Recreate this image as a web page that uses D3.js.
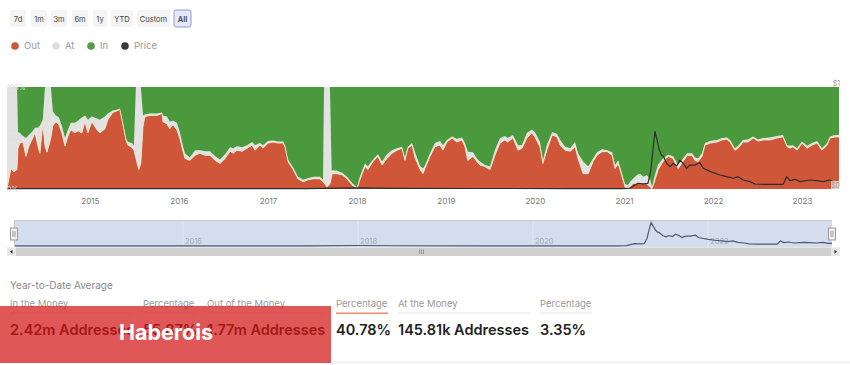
<!DOCTYPE html>
<html>
<head>
<meta charset="utf-8">
<script src="https://cdn.jsdelivr.net/npm/d3@7"></script>
<style>
    body { margin: 0; background: #fff; }
</style>
</head>
<body>
<div id="chartarea"></div>
<script>
// --- data ---
const dates = [
    '2014-01-26','2014-02-03','2014-02-11','2014-02-23','2014-03-08','2014-03-12','2014-03-20','2014-04-01','2014-04-14','2014-04-26',
    '2014-05-08','2014-05-21','2014-06-02','2014-06-10','2014-06-22','2014-07-01','2014-07-09','2014-07-25','2014-08-02','2014-08-15',
    '2014-08-27','2014-09-08','2014-09-21','2014-10-03','2014-10-15','2014-11-01','2014-11-13','2014-11-29','2014-12-12','2014-12-24',
    '2015-01-09','2015-01-30','2015-02-11','2015-03-04','2015-03-16','2015-04-05','2015-04-26','2015-05-04','2015-05-16','2015-05-29',
    '2015-06-06','2015-06-22','2015-07-01','2015-07-09','2015-07-21','2015-07-29','2015-08-07','2015-08-15','2015-09-04','2015-10-03',
    '2015-10-24','2015-10-28','2015-11-13','2015-11-25','2015-12-08','2015-12-24','2016-01-05','2016-01-17','2016-01-26','2016-02-15',
    '2016-03-08','2016-03-28','2016-04-18','2016-05-08','2016-05-29','2016-06-18','2016-07-09','2016-07-29','2016-08-11','2016-08-27',
    '2016-09-17','2016-10-07','2016-10-28','2016-11-09','2016-11-29','2016-12-12','2017-01-01','2017-01-22','2017-02-11','2017-03-04',
    '2017-03-12','2017-03-24','2017-04-14','2017-05-04','2017-05-25','2017-06-14','2017-07-05','2017-08-02','2017-08-15','2017-08-19',
    '2017-08-31','2017-09-12','2017-09-19','2017-09-21','2017-10-11','2017-11-01','2017-11-21','2017-12-12','2018-01-01','2018-01-13',
    '2018-02-03','2018-02-15','2018-03-08','2018-03-28','2018-04-14','2018-05-04','2018-05-25','2018-06-14','2018-07-05','2018-07-17',
    '2018-07-29','2018-08-15','2018-08-27','2018-09-17','2018-09-29','2018-10-07','2018-10-28','2018-11-17','2018-12-08','2018-12-20',
    '2019-01-05','2019-01-26','2019-02-15','2019-03-08','2019-03-20','2019-04-01','2019-04-22','2019-05-08','2019-05-21','2019-06-10',
    '2019-07-01','2019-07-21','2019-08-11','2019-08-31','2019-09-12','2019-10-03','2019-10-24','2019-11-09','2019-11-29','2019-12-20',
    '2020-01-01','2020-01-22','2020-02-03','2020-02-19','2020-03-12','2020-04-01','2020-04-14','2020-05-04','2020-05-25','2020-06-14',
    '2020-06-26','2020-07-17','2020-08-07','2020-08-27','2020-09-12','2020-10-03','2020-10-24','2020-11-13','2020-11-25','2020-12-08',
    '2020-12-24','2021-01-05','2021-01-17','2021-01-26','2021-02-07','2021-02-23','2021-03-08','2021-03-20','2021-04-05','2021-04-18',
    '2021-04-26','2021-05-08','2021-05-21','2021-06-10','2021-07-01','2021-07-21','2021-08-11','2021-08-31','2021-09-17','2021-10-07',
    '2021-10-19','2021-11-01','2021-11-17','2021-11-29','2021-12-20','2022-01-17','2022-02-07','2022-02-27','2022-03-12','2022-04-01',
    '2022-04-14','2022-05-04','2022-05-25','2022-06-14','2022-07-05','2022-07-25','2022-08-23','2022-09-21','2022-10-15','2022-11-01',
    '2022-11-13','2022-11-25','2022-12-12','2023-01-01','2023-01-22','2023-02-11','2023-03-04','2023-03-24','2023-04-14','2023-04-26',
    '2023-05-16','2023-06-02'
];

// share of addresses out of the money (%)
const outPct = [
    0, 10, 20, 17, 19, 40, 45, 46, 32, 42,
    48, 55, 42, 35, 64, 42, 36, 50, 62, 66,
    63, 55, 42, 52, 58, 55, 57, 55, 66, 55,
    66, 58, 55, 59, 68, 75, 77, 78, 64, 48,
    43, 41, 38, 30, 19, 25, 61, 71, 72, 72,
    74, 66, 64, 59, 63, 58, 50, 38, 30, 28,
    33, 35, 33, 33, 28, 25, 30, 37, 35, 38,
    37, 40, 43, 38, 43, 40, 45, 46, 45, 45,
    41, 27, 19, 10, 7, 9, 10, 10, 7, 6,
    2, 5, 12, 15, 15, 14, 10, 4, 0.5, 9,
    22, 19, 27, 32, 23.5, 30, 35, 38, 40, 28,
    40, 43, 31, 19, 15, 20, 32, 41.5, 43, 38,
    46, 50, 46, 48, 41.5, 28, 32, 27, 23.5, 22,
    19, 33, 45, 48, 46, 50, 38, 40, 50, 55,
    51, 41.5, 25, 38, 53, 51, 43, 38, 37, 41.5,
    30, 15, 15, 27, 33, 36.6, 36.6, 33, 20, 25,
    12, 2, 0.5, 2, 5.5, 5.5, 5, 5.5, 5, 2,
    0.5, 9, 19, 27, 32, 30, 20, 27, 33, 33,
    28, 27, 32, 43, 45, 46, 48, 48.7, 46, 38,
    40, 46, 46, 50, 47, 48, 48, 50, 51, 41.5,
    40, 41.5, 38, 45, 40, 43, 45, 38, 43, 50,
    51, 51
];

// share of addresses at the money (%)
const atPct = [
    100, 90, 80, 83, 81, 16, 10, 6, 18, 11,
    8, 5, 18, 27, 4, 58, 64, 50, 14, 6,
    7, 7, 8, 6, 7, 10, 10, 15, 6, 13,
    5, 11, 13, 12, 6, 2, 1, 1, 2, 2,
    3, 4, 5, 70, 81, 75, 11, 2, 2, 2,
    1, 6, 7, 7, 4, 7, 6, 5, 5, 3,
    5, 3, 4, 4, 4, 4, 4, 4, 5, 4,
    4, 3, 3, 5, 2, 3, 2, 1.5, 1.5, 1.5,
    2, 2, 2, 2, 2, 1.5, 2, 2, 2, 94,
    98, 95, 6, 3.5, 3, 2, 2, 2, 1, 3,
    3, 3, 2, 2, 3.5, 4, 3, 2, 1.5, 3,
    1.5, 2, 5, 3.5, 5, 3, 3, 3.5, 4, 5,
    2, 1.5, 3, 2.5, 3.5, 8.5, 4, 3, 3.5, 1.5,
    3, 5, 5, 4, 4, 3, 5, 3, 5, 3,
    5, 4.5, 3, 5, 3, 3, 5, 3.5, 3, 4.5,
    5, 12, 7, 3, 3, 2.4, 1.4, 3, 3.5, 3,
    3, 3, 3.5, 5, 4.5, 8.2, 10, 6.5, 8.7, 7,
    1.5, 5, 5, 3, 1.5, 2, 3.5, 3, 2, 2,
    3, 3, 3, 2, 2, 2, 2, 1.8, 2, 2,
    2.5, 2, 2.5, 1.5, 1.5, 2, 2.5, 2, 2, 1.5,
    2.5, 1.5, 2, 1.5, 2.5, 2, 2, 2, 2, 1.5,
    2, 2
];

const priceDates = [
    '2014-01-26','2015-06-01','2016-06-01','2017-06-01','2018-01-13','2018-06-01','2019-06-01','2020-06-01','2020-12-24','2021-01-13',
    '2021-01-26','2021-02-15','2021-02-27','2021-03-20','2021-04-09','2021-04-21','2021-04-28','2021-05-08','2021-05-18','2021-05-26',
    '2021-06-04','2021-06-11','2021-06-25','2021-07-09','2021-07-22','2021-08-05','2021-08-18','2021-09-01','2021-09-15','2021-09-28',
    '2021-10-19','2021-11-08','2021-11-22','2021-12-13','2022-01-02','2022-01-29','2022-02-26','2022-03-25','2022-04-14','2022-05-05',
    '2022-06-01','2022-06-22','2022-07-26','2022-09-05','2022-10-16','2022-10-30','2022-11-13','2022-12-03','2022-12-24','2023-02-03',
    '2023-03-02','2023-03-29','2023-04-26','2023-05-16','2023-06-02'
];
// price in USD
const priceValues = [
    0.003, 0.004, 0.003, 0.004, 0.012, 0.006, 0.005, 0.004, 0.004, 0.006,
    0.01, 0.04, 0.056, 0.05, 0.056, 0.186, 0.35, 0.562, 0.464, 0.382,
    0.33, 0.324, 0.25, 0.219, 0.25, 0.226, 0.284, 0.25, 0.203, 0.235,
    0.235, 0.258, 0.203, 0.18, 0.16, 0.137, 0.121, 0.105, 0.121, 0.088,
    0.072, 0.049, 0.046, 0.046, 0.046, 0.121, 0.082, 0.095, 0.072, 0.088,
    0.082, 0.072, 0.088, 0.062, 0.065
];

const rangeButtons = ['7d', '1m', '3m', '6m', '1y', 'YTD', 'Custom', 'All'];
const legendItems = ['Out', 'At', 'In', 'Price'];
const statLabels = ['In the Money', 'Percentage', 'Out of the Money', 'Percentage', 'At the Money', 'Percentage'];
const statValues = ['2.42m Addresses', '55.87%', '1.77m Addresses', '40.78%', '145.81k Addresses', '3.35%'];

// --- layout ---
const colors = { out: '#cf5639', at: '#e2e2e2', in: '#4a9a3d', price: '#2e2e2e' };
const legendColors = ['#c95a40', '#dedede', '#559b48', '#3a3a3a'];
const plot = { left: 7, right: 839, top: 87, bottom: 189 };
const nav = { left: 14, right: 832, top: 220, bottom: 247 };
const buttonX = [10, 31, 51, 72, 93, 111, 137, 174];
const buttonW = [16, 16, 16, 16, 14, 22, 33, 17];
const legendX = [15, 56, 91, 125];
const colX = [10, 143, 207, 336, 398, 540];
const colW = [123, 54, 118, 52, 132, 52];

const parse = d3.timeParse('%Y-%m-%d');
const table = dates.map((d, i) => ({
    date: parse(d),
    out: outPct[i],
    at: atPct[i],
    in: 100 - outPct[i] - atPct[i]
}));
const prices = priceDates.map((d, i) => ({ date: parse(d), price: priceValues[i] }));

const svg = d3.select('#chartarea')
    .append('svg')
        .attr('width', 850)
        .attr('height', 365)
        .style('font-family', 'Inter, "Noto Sans", sans-serif')
        .style('display', 'block');

//range buttons
const btn = svg.append('g').selectAll('g')
    .data(rangeButtons)
    .join('g')
        .attr('transform', (d, i) => `translate(${buttonX[i]}, 10)`);
btn.append('rect')
    .attr('width', (d, i) => buttonW[i])
    .attr('height', 17)
    .attr('rx', 2)
    .attr('fill', d => d === 'All' ? '#e6e9f8' : '#f4f4f4')
    .attr('stroke', d => d === 'All' ? '#8d9bd4' : 'none');
btn.append('text')
    .attr('x', (d, i) => buttonW[i] / 2)
    .attr('y', 11.5)
    .attr('text-anchor', 'middle')
    .attr('font-size', '7.5px')
    .attr('font-weight', d => d === 'All' ? 600 : 400)
    .attr('fill', '#444')
    .text(d => d);

//legend
const leg = svg.append('g').selectAll('g')
    .data(legendItems)
    .join('g')
        .attr('transform', (d, i) => `translate(${legendX[i]}, 46)`);
leg.append('circle')
    .attr('r', 3.8)
    .attr('fill', (d, i) => legendColors[i]);
leg.append('text')
    .attr('x', 9)
    .attr('dy', '0.35em')
    .attr('font-size', '9.5px')
    .attr('fill', '#9a9a9a')
    .text(d => d);

// main chart
const x = d3.scaleTime()
    .domain(d3.extent(table, d => d.date))
    .range([plot.left, plot.right]);
const y = d3.scaleLinear()
    .domain([0, 100])
    .range([plot.bottom, plot.top]);
const yPrice = d3.scaleLinear()
    .domain([0, 1])
    .range([plot.bottom, plot.top]);

const stacked = d3.stack().keys(['out', 'at', 'in'])(table);
const area = d3.area()
    .x(d => x(d.data.date))
    .y0(d => y(d[0]))
    .y1(d => y(d[1]));

svg.append('g')
    .selectAll('path')
    .data(stacked)
    .join('path')
        .attr('fill', d => colors[d.key])
        .attr('d', area);

// thin light edge on top of the out area
svg.append('path')
    .datum(table)
    .attr('fill', 'none')
    .attr('stroke', '#f1e4c3')
    .attr('stroke-width', 0.8)
    .attr('d', d3.line().x(d => x(d.date)).y(d => y(d.out)));

svg.append('path')
    .datum(prices)
    .attr('fill', 'none')
    .attr('stroke', colors.price)
    .attr('stroke-width', 1.2)
    .attr('stroke-linejoin', 'round')
    .attr('d', d3.line().x(d => x(d.date)).y(d => yPrice(d.price)));

//x axis
const xAxis = d3.axisBottom(x)
    .ticks(d3.timeYear.every(1))
    .tickFormat(d3.timeFormat('%Y'))
    .tickSize(0)
    .tickPadding(9);
svg.append('g')
    .attr('transform', `translate(0, ${plot.bottom})`)
    .call(xAxis)
    .call(g => g.select('.domain').remove())
    .selectAll('text')
        .attr('font-family', 'Inter, "Noto Sans", sans-serif')
        .attr('font-size', '8px')
        .attr('fill', '#777');

//y axis (percent, inside the plot)
const yAxis = d3.axisRight(y)
    .tickValues([0, 50, 100])
    .tickFormat(d => `${d}%`)
    .tickSize(0)
    .tickPadding(0);
svg.append('g')
    .attr('transform', `translate(${plot.left}, 0)`)
    .call(yAxis)
    .call(g => g.select('.domain').remove())
    .selectAll('text')
        .attr('font-family', 'Inter, "Noto Sans", sans-serif')
        .attr('font-size', '7px')
        .attr('fill', '#dcdcdc');

//price axis
const priceAxis = d3.axisLeft(yPrice)
    .tickValues([0, 1])
    .tickFormat(d => `$${d}`)
    .tickSize(0)
    .tickPadding(0);
const pa = svg.append('g')
    .attr('transform', `translate(840, -4)`)
    .call(priceAxis)
    .call(g => g.select('.domain').remove());
pa.selectAll('.tick')
    .filter(d => d === 0)
    .insert('rect', 'text')
        .attr('x', -9)
        .attr('y', -4.5)
        .attr('width', 9)
        .attr('height', 9)
        .attr('fill', 'rgba(255,255,255,0.7)');
pa.selectAll('text')
    .attr('font-family', 'Inter, "Noto Sans", sans-serif')
    .attr('font-size', '7px')
    .attr('fill', '#999');

// navigator
const xNav = d3.scaleTime()
    .domain(x.domain())
    .range([nav.left, nav.right]);
const yNav = d3.scaleLinear()
    .domain([0, d3.max(priceValues)])
    .range([246, 222.5]);

svg.append('rect')
    .attr('x', nav.left)
    .attr('y', nav.top)
    .attr('width', nav.right - nav.left)
    .attr('height', nav.bottom - nav.top)
    .attr('fill', 'rgba(102,133,194,0.28)');

const navTicks = xNav.ticks(d3.timeYear.every(2));
svg.append('g')
    .selectAll('line')
    .data(navTicks)
    .join('line')
        .attr('x1', d => xNav(d))
        .attr('x2', d => xNav(d))
        .attr('y1', nav.top)
        .attr('y2', nav.bottom)
        .attr('stroke', '#e4e8f1')
        .attr('stroke-width', 1);
svg.append('g')
    .selectAll('text')
    .data(navTicks)
    .join('text')
        .attr('x', d => xNav(d) + 2)
        .attr('y', 244)
        .attr('font-size', '7.5px')
        .attr('fill', '#a4a9b4')
        .text(d3.timeFormat('%Y'));

svg.append('path')
    .datum(prices)
    .attr('fill', 'none')
    .attr('stroke', '#4f5870')
    .attr('stroke-width', 1.2)
    .attr('d', d3.line().x(d => xNav(d.date)).y(d => yNav(d.price)));

// navigator outline
svg.append('path')
    .attr('fill', 'none')
    .attr('stroke', '#c4c8d0')
    .attr('d', `M${nav.left + 0.5},${nav.bottom} V${nav.top + 0.5} H${nav.right}`);

// handles
[nav.left, nav.right].forEach(hx => {
    const h = svg.append('g').attr('transform', `translate(${hx}, 228)`);
    h.append('rect')
        .attr('x', -3.5)
        .attr('width', 7)
        .attr('height', 12)
        .attr('fill', '#f2f2f2')
        .attr('stroke', '#999');
    h.append('path')
        .attr('stroke', '#999')
        .attr('d', 'M-1,3 V9 M1,3 V9');
});

// scrollbar
svg.append('rect')
    .attr('x', 7).attr('y', 247.5).attr('width', 833).attr('height', 8.5)
    .attr('fill', '#f2f2f2');
svg.append('rect')
    .attr('x', 16).attr('y', 247.5).attr('width', 815).attr('height', 8.5)
    .attr('fill', '#cfcfcf');
[7, 831].forEach((bx, i) => {
    svg.append('rect')
        .attr('x', bx).attr('y', 247.5).attr('width', 9).attr('height', 8.5)
        .attr('fill', '#e8e8e8');
    svg.append('path')
        .attr('fill', '#333')
        .attr('d', i === 0
            ? `M${bx + 3},251.75 L${bx + 5.5},249.8 V253.7 Z`
            : `M${bx + 6},251.75 L${bx + 3.5},249.8 V253.7 Z`);
});
svg.append('path')
    .attr('stroke', '#888')
    .attr('stroke-width', 0.8)
    .attr('d', 'M419.5,249.5 V254 M421.5,249.5 V254 M423.5,249.5 V254');

// stats
svg.append('text')
    .attr('x', 10)
    .attr('y', 289)
    .attr('font-size', '10px')
    .attr('fill', '#8a8a8a')
    .text('Year-to-Date Average');

const cols = svg.append('g').selectAll('g')
    .data(statLabels)
    .join('g')
        .attr('transform', (d, i) => `translate(${colX[i]}, 0)`);
cols.append('text')
    .attr('y', 307)
    .attr('font-size', '9.5px')
    .attr('fill', '#9a9a9a')
    .text(d => d);
cols.append('rect')
    .attr('y', 312.5)
    .attr('width', (d, i) => colW[i])
    .attr('height', (d, i) => i === 3 ? 1.6 : 1.2)
    .attr('fill', (d, i) => i === 3 ? '#e39170' : '#e9e9e9');
cols.append('text')
    .attr('y', 335)
    .attr('font-size', '14.5px')
    .attr('font-weight', 600)
    .attr('fill', '#222')
    .text((d, i) => statValues[i]);

svg.append('rect')
    .attr('x', 0).attr('y', 361.5).attr('width', 850).attr('height', 1.5)
    .attr('fill', '#eeeeee');

// watermark box
svg.append('rect')
    .attr('x', 0)
    .attr('y', 306)
    .attr('width', 331)
    .attr('height', 57)
    .attr('fill', 'rgb(212,22,22)')
    .attr('opacity', 0.72);
svg.append('text')
    .attr('x', 166)
    .attr('y', 339.5)
    .attr('text-anchor', 'middle')
    .attr('font-size', '21.5px')
    .attr('font-weight', 700)
    .attr('fill', '#fff')
    .text('Haberois');
</script>
</body>
</html>
